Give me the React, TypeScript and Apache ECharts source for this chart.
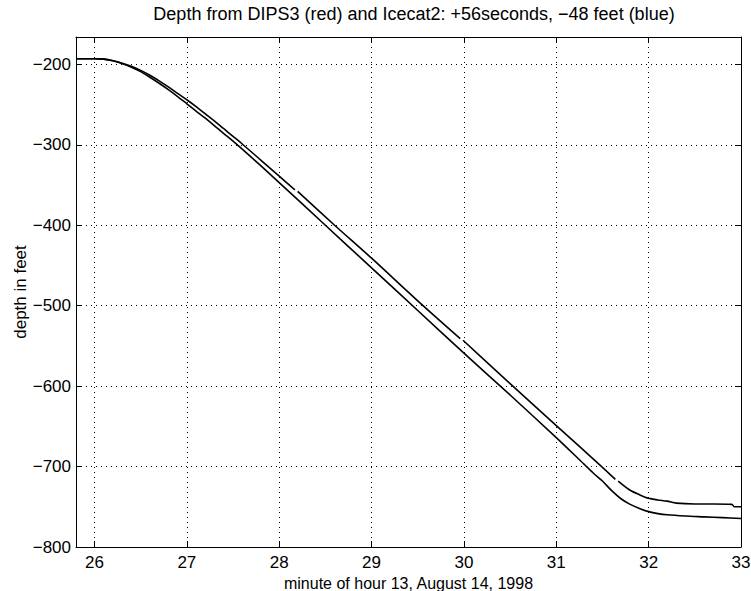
import React, { useEffect, useRef } from "react";
import * as echarts from "echarts";

const titleText = "Depth from DIPS3 (red) and Icecat2: +56seconds, \u221248 feet (blue)";
const xAxisName = "minute of hour 13, August 14, 1998";
const yAxisName = "depth in feet";

const lowerMinutes = [25.8, 26.0, 26.1, 26.2, 26.3, 26.4, 26.5, 26.6, 26.7, 26.8, 26.9, 27.0, 27.1, 27.2, 27.3, 27.4, 27.5, 27.6, 27.8, 28.0, 28.5, 29.0, 29.5, 30.0, 30.5, 31.0, 31.3, 31.4, 31.5, 31.6, 31.7, 31.8, 31.9, 32.0, 32.1, 32.2, 32.4, 32.6, 32.8, 33.0];
const lowerDepth = [-193, -193, -193.5, -195.5, -199, -203.5, -209, -216, -223.5, -231.5, -240, -249, -258, -267, -276.5, -286, -295.5, -305.5, -326, -347, -400, -453, -506, -559, -611, -664, -697, -708, -718, -730, -740, -747, -752, -756, -758.5, -760, -761.5, -762.5, -763.5, -764.5];

const upperMinutes = [25.8, 26.0, 26.1, 26.2, 26.3, 26.4, 26.5, 26.6, 26.7, 26.8, 26.9, 27.0, 27.1, 27.2, 27.3, 27.4, 27.5, 27.6, 27.8, 28.0, 28.17, 28.18, 28.2, 28.6, 29.0, 29.5, 29.96, 29.97, 29.99, 30.5, 31.0, 31.5, 31.64, 31.65, 31.67, 31.8, 31.9, 32.0, 32.1, 32.2, 32.3, 32.5, 32.7, 32.9, 32.93, 33.0];
const upperDepth = [-193, -193, -193.5, -195.5, -198.5, -202.5, -207.5, -213.5, -220.5, -228, -236, -244, -252.5, -261.5, -270.5, -280, -289.5, -299, -319, -339, -356, null, -358, -400, -441, -494, -541, null, -543, -597, -649, -701, -716, null, -718, -729.5, -735, -739.5, -741.5, -743, -745.5, -746.5, -746.5, -747, -750, -750];

const xMin = 25.8;
const xMax = 33;
const yMin = -800;
const yMax = -166;

const toPairs = (xs: number[], ys: (number | null)[]) =>
  xs.map((x, i) => [x, ys[i] === null ? "-" : ys[i]]);

const FONT = "'Liberation Sans', Arial, Helvetica, sans-serif";
const minus = (n: number) => (n < 0 ? "\u2212" + String(Math.abs(n)) : String(n));

export default function App() {
  const ref = useRef<HTMLDivElement>(null);
  useEffect(() => {
    if (!ref.current) return;
    const chart = echarts.init(ref.current, undefined, { renderer: "svg" });
    const isInt = (v: number, step: number) => Math.abs(v / step - Math.round(v / step)) < 1e-6;
    const axisLineStyle = { color: "#000", width: 1 };
    chart.setOption({
      animation: false,
      backgroundColor: "#fff",
      textStyle: { fontFamily: FONT },
      title: {
        text: titleText,
        left: 409,
        textAlign: "center",
        top: 0,
        textStyle: { fontFamily: FONT, fontSize: 18, fontWeight: "normal", color: "#000" },
      },
      grid: { left: 76, right: 10, top: 37, bottom: 44, show: false, containLabel: false, outerBoundsMode: "none" },
      xAxis: [
        {
          type: "value",
          min: xMin,
          max: xMax,
          splitNumber: 7,
          name: xAxisName,
          nameLocation: "middle",
          nameGap: 22,
          nameTextStyle: { fontFamily: FONT, fontSize: 16, color: "#000", lineHeight: 16 },
          axisLine: { show: true, lineStyle: axisLineStyle },
          axisTick: { show: true, inside: true, length: 6, lineStyle: axisLineStyle },
          axisLabel: {
            color: "#000",
            fontSize: 17,
            fontFamily: FONT,
            margin: 7,
            formatter: (v: number) => (isInt(v, 1) ? String(Math.round(v)) : ""),
          },
          splitLine: { show: true, lineStyle: { color: "#000", width: 1, type: [1, 4] } },
        },
        {
          type: "value",
          position: "top",
          min: xMin,
          max: xMax,
          splitNumber: 7,
          axisLine: { show: true, lineStyle: axisLineStyle },
          axisTick: { show: true, inside: true, length: 6, lineStyle: axisLineStyle },
          axisLabel: { show: false },
          splitLine: { show: false },
        },
      ],
      yAxis: [
        {
          type: "value",
          min: yMin,
          max: yMax,
          splitNumber: 6,
          name: yAxisName,
          nameLocation: "middle",
          nameGap: 47,
          nameMoveOverlap: false,
          nameTextStyle: { fontFamily: FONT, fontSize: 17, color: "#000" },
          axisLine: { show: true, lineStyle: axisLineStyle },
          axisTick: { show: true, inside: true, length: 6, lineStyle: axisLineStyle },
          axisLabel: {
            color: "#000",
            fontSize: 17,
            fontFamily: FONT,
            margin: 5,
            formatter: (v: number) => (isInt(v, 100) ? minus(Math.round(v)) : ""),
          },
          splitLine: { show: true, lineStyle: { color: "#000", width: 1, type: [1, 4] } },
        },
        {
          type: "value",
          position: "right",
          min: yMin,
          max: yMax,
          splitNumber: 6,
          axisLine: { show: true, lineStyle: axisLineStyle },
          axisTick: { show: true, inside: true, length: 6, lineStyle: axisLineStyle },
          axisLabel: { show: false },
          splitLine: { show: false },
        },
      ],
      series: [
        {
          name: "DIPS3",
          type: "line",
          xAxisIndex: 0,
          yAxisIndex: 0,
          data: toPairs(lowerMinutes, lowerDepth),
          showSymbol: false,
          smooth: 0.3,
          connectNulls: false,
          lineStyle: { color: "#000", width: 1.6 },
        },
        {
          name: "Icecat2",
          type: "line",
          xAxisIndex: 0,
          yAxisIndex: 0,
          data: toPairs(upperMinutes, upperDepth),
          showSymbol: false,
          smooth: 0.3,
          connectNulls: false,
          lineStyle: { color: "#000", width: 1.6 },
        },
      ],
    });
    return () => chart.dispose();
  }, []);
  return <div ref={ref} style={{ width: 751, height: 591, position: "absolute", left: 0, top: 0 }} />;
}
